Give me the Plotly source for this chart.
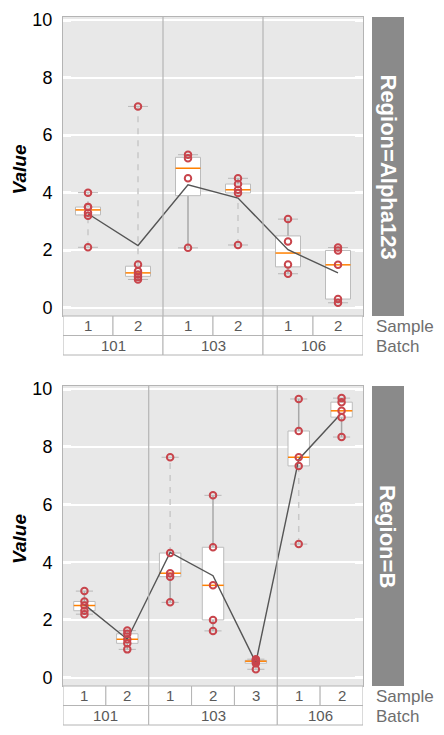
import numpy as np
import plotly.graph_objects as go

# page is 444x735; the html body adds an 8px margin, so the figure is laid out
# in page pixels and shifted by that offset
PAGE_OFF = 8
W, H = 436, 719

# ---------------- data ----------------
alpha_batch = ["101", "101", "103", "103", "106", "106"]
alpha_sample = ["1", "2", "1", "2", "1", "2"]
alpha_values = [
    [4.0, 3.5, 3.5, 3.3, 3.2, 2.1],
    [7.0, 1.5, 1.27, 1.15, 1.07, 0.98],
    [5.32, 5.2, 4.5, 2.08],
    [4.5, 4.3, 4.1, 3.99, 2.18],
    [3.08, 2.3, 1.5, 1.18],
    [2.09, 1.99, 1.49, 0.3, 0.17],
]

b_batch = ["101", "101", "103", "103", "103", "106", "106"]
b_sample = ["1", "2", "1", "2", "3", "1", "2"]
b_values = [
    [3.0, 2.64, 2.5, 2.32, 2.2],
    [1.63, 1.52, 1.33, 1.19, 0.98],
    [7.64, 4.32, 3.62, 3.5, 2.61],
    [6.32, 4.52, 3.2, 2.0, 1.62],
    [0.64, 0.6, 0.57, 0.5, 0.29],
    [9.66, 8.55, 7.64, 7.34, 4.63],
    [9.69, 9.55, 9.25, 9.03, 8.34],
]

region_labels = ["Region=Alpha123", "Region=B"]
y_ticks = [0, 2, 4, 6, 8, 10]
row_labels = ["Sample", "Batch"]

# ---------------- style ----------------
FONT = "Liberation Sans, Arial, sans-serif"
BG = "#e8e8e8"
BORDER = "#b4b4b4"
BOX_LINE = "#bcbcbc"
WHISK_SOLID = "#a8a8a8"
WHISK_DASH = "#c8c8c8"
CAP = "#b8b8b8"
MEDIAN = "#ff8000"
MEAN_LINE = "#555555"
POINT = "#c8454c"
STRIP = "#8a8a8a"
TXT = "#595959"

PLOT_L, PLOT_R = 63, 363
ROW_H = 19.5
STRIP_X0, STRIP_X1 = 372, 404
Y_RANGE = [-0.29, 10.11]


def pxx(px):
    return (px - PAGE_OFF) / W


def pxy(py):
    return 1 - (py - PAGE_OFF) / H


panels = [
    dict(batch=alpha_batch, sample=alpha_sample, values=alpha_values,
         region=region_labels[0], top=17, bottom=316),
    dict(batch=b_batch, sample=b_sample, values=b_values,
         region=region_labels[1], top=386, bottom=686),
]

fig = go.Figure()
shapes = []
annotations = []
layout_axes = {}

for k, p in enumerate(panels):
    xa = "x" if k == 0 else "x2"
    ya = "y" if k == 0 else "y2"
    xkey = "xaxis" if k == 0 else "xaxis2"
    ykey = "yaxis" if k == 0 else "yaxis2"
    vals = p["values"]
    n = len(vals)

    box_x, box_y = [], []
    ws_x, ws_y = [], []
    wd_x, wd_y = [], []
    cap_x, cap_y = [], []
    med_x, med_y = [], []
    mean_x, mean_y = [], []
    pt_x, pt_y = [], []

    for i, v in enumerate(vals):
        v = np.asarray(v, dtype=float)
        q1, med, q3 = np.percentile(v, [25, 50, 75])
        iqr = q3 - q1
        lo, hi = v.min(), v.max()
        bw, cw = 0.25, 0.2
        box_x += [i - bw, i + bw, i + bw, i - bw, i - bw, None]
        box_y += [q1, q1, q3, q3, q1, None]
        # upper whisker (dashed when the extreme lies beyond 1.5 IQR)
        if hi > q3 + 1.5 * iqr:
            wd_x += [i, i, None]; wd_y += [q3, hi, None]
        else:
            ws_x += [i, i, None]; ws_y += [q3, hi, None]
        # lower whisker
        if lo < q1 - 1.5 * iqr:
            wd_x += [i, i, None]; wd_y += [lo, q1, None]
        else:
            ws_x += [i, i, None]; ws_y += [lo, q1, None]
        cap_x += [i - cw, i + cw, None, i - cw, i + cw, None]
        cap_y += [lo, lo, None, hi, hi, None]
        med_x += [i - bw, i + bw, None]
        med_y += [med, med, None]
        mean_x.append(i)
        mean_y.append(v.mean())
        pt_x += [i] * len(v)
        pt_y += list(v)

    common = dict(xaxis=xa, yaxis=ya, hoverinfo="skip", showlegend=False)
    fig.add_trace(go.Scatter(x=ws_x, y=ws_y, mode="lines",
                             line=dict(color=WHISK_SOLID, width=1.5), **common))
    fig.add_trace(go.Scatter(x=wd_x, y=wd_y, mode="lines",
                             line=dict(color=WHISK_DASH, width=1.5, dash="6px,6px"), **common))
    fig.add_trace(go.Scatter(x=cap_x, y=cap_y, mode="lines",
                             line=dict(color=CAP, width=1), **common))
    fig.add_trace(go.Scatter(x=box_x, y=box_y, mode="lines", fill="toself",
                             fillcolor="white", line=dict(color=BOX_LINE, width=1), **common))
    fig.add_trace(go.Scatter(x=med_x, y=med_y, mode="lines",
                             line=dict(color=MEDIAN, width=1.5), **common))
    fig.add_trace(go.Scatter(x=mean_x, y=mean_y, mode="lines",
                             line=dict(color=MEAN_LINE, width=1.4), **common))
    fig.add_trace(go.Scatter(x=pt_x, y=pt_y, mode="markers",
                             marker=dict(symbol="circle-open", size=6.5, color=POINT,
                                         line=dict(width=2, color=POINT)), **common))

    top, bot = p["top"], p["bottom"]
    layout_axes[xkey] = dict(
        domain=[pxx(PLOT_L), pxx(PLOT_R)], range=[-0.5, n - 0.5],
        showgrid=False, zeroline=False, showticklabels=False, ticks="",
        showline=True, linecolor=BORDER, linewidth=1, mirror=True,
        anchor=ya, fixedrange=True, automargin=False,
    )
    layout_axes[ykey] = dict(
        domain=[pxy(bot), pxy(top)], range=Y_RANGE,
        tickvals=y_ticks, ticktext=[str(t) for t in y_ticks],
        showgrid=True, gridcolor="white", gridwidth=2, zeroline=False,
        ticks="inside", ticklen=8, tickwidth=2.5, tickcolor="white",
        showline=True, linecolor=BORDER, linewidth=1, mirror="ticks",
        tickfont=dict(family=FONT, size=18, color="black"),
        ticklabelstandoff=6, anchor=xa, fixedrange=True, automargin=False,
    )

    # y-axis title
    annotations.append(dict(
        text="<b><i>Value</i></b>", x=pxx(19), y=pxy((top + bot) / 2 + 3),
        xref="paper", yref="paper", showarrow=False, textangle=-90,
        font=dict(family=FONT, size=19, color="black"),
        xanchor="center", yanchor="middle"))

    # batch groups
    groups = []
    start = 0
    for i in range(1, n + 1):
        if i == n or p["batch"][i] != p["batch"][start]:
            groups.append((start, i - 1, p["batch"][start]))
            start = i
    for (s, e, lab) in groups[:-1]:
        shapes.append(dict(type="line", xref=xa, yref="paper",
                           x0=e + 0.5, x1=e + 0.5, y0=pxy(bot), y1=pxy(top),
                           line=dict(color=BORDER, width=1.2), layer="above"))

    # table rows
    r1_top, r1_bot = bot, bot + ROW_H
    r2_top, r2_bot = bot + ROW_H, bot + 2 * ROW_H
    for i, lab in enumerate(p["sample"]):
        shapes.append(dict(type="rect", xref=xa, yref="paper",
                           x0=i - 0.5, x1=i + 0.5, y0=pxy(r1_bot), y1=pxy(r1_top),
                           line=dict(color=BORDER, width=1), fillcolor="white"))
        annotations.append(dict(text=lab, x=i, y=pxy((r1_top + r1_bot) / 2),
                                xref=xa, yref="paper", showarrow=False,
                                xanchor="center", yanchor="middle",
                                font=dict(family=FONT, size=15, color=TXT)))
    for (s, e, lab) in groups:
        shapes.append(dict(type="rect", xref=xa, yref="paper",
                           x0=s - 0.5, x1=e + 0.5, y0=pxy(r2_bot), y1=pxy(r2_top),
                           line=dict(color=BORDER, width=1), fillcolor="white"))
        annotations.append(dict(text=lab, x=(s + e) / 2, y=pxy((r2_top + r2_bot) / 2),
                                xref=xa, yref="paper", showarrow=False,
                                xanchor="center", yanchor="middle",
                                font=dict(family=FONT, size=15, color=TXT)))
    for j, lab in enumerate(row_labels):
        yc = (r1_top + r1_bot) / 2 if j == 0 else (r2_top + r2_bot) / 2
        annotations.append(dict(text=lab, x=pxx(374), y=pxy(yc + 1), xref="paper", yref="paper",
                                showarrow=False, xanchor="left", yanchor="middle",
                                font=dict(family=FONT, size=17, color="#6e6e6e")))

    # strip
    shapes.append(dict(type="rect", xref="paper", yref="paper",
                       x0=pxx(STRIP_X0), x1=pxx(STRIP_X1), y0=pxy(bot), y1=pxy(top),
                       line=dict(width=0), fillcolor=STRIP))
    annotations.append(dict(text="<b>" + p["region"] + "</b>",
                            x=pxx((STRIP_X0 + STRIP_X1) / 2), y=pxy((top + bot) / 2),
                            xref="paper", yref="paper", showarrow=False, textangle=90,
                            xanchor="center", yanchor="middle",
                            font=dict(family=FONT, size=22, color="white")))

fig.update_layout(
    width=W, height=H, margin=dict(l=0, r=0, t=0, b=0, autoexpand=False),
    paper_bgcolor="white", plot_bgcolor=BG,
    showlegend=False, hovermode=False,
    shapes=shapes, annotations=annotations,
    **layout_axes,
)

fig.write_html("out.html", config={"displayModeBar": False})
